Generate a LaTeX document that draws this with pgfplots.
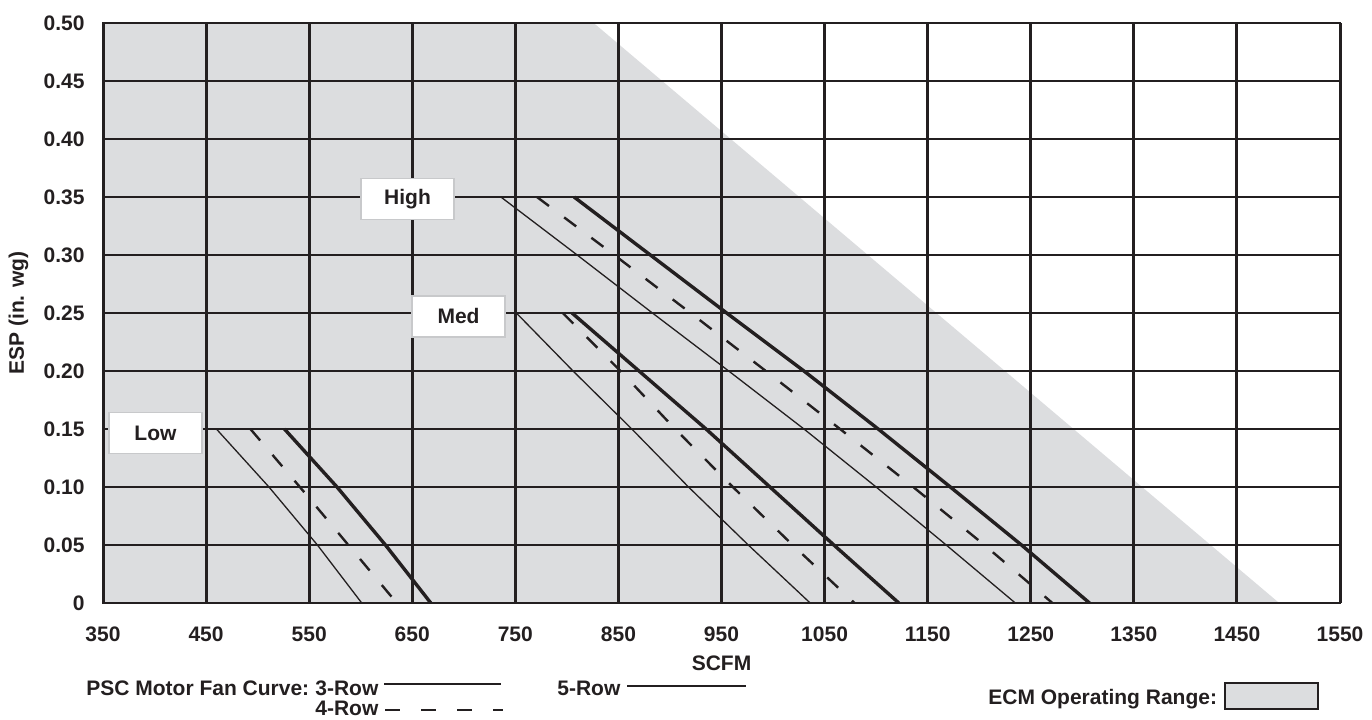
\documentclass[border=0pt]{standalone}
\usepackage{fontspec}
\setmainfont{Liberation Sans}
\usepackage{pgfplots}
\pgfplotsset{compat=1.18}
\definecolor{ecm}{RGB}{220,221,223}
\definecolor{ink}{RGB}{35,31,32}
\definecolor{boxedge}{RGB}{200,201,203}
\newcommand{\lab}{\fontsize{10.5}{12}\selectfont\bfseries}
\begin{document}
\begin{tikzpicture}
\begin{axis}[
  at={(0,0)}, anchor=south west,
  scale only axis, width=618.5pt, height=290pt,
  xmin=350, xmax=1550, ymin=0, ymax=0.5,
  xtick={350,450,550,650,750,850,950,1050,1150,1250,1350,1450,1550},
  xticklabels={350,450,550,650,750,850,950,1050,1150,1250,1350,1450,1550},
  ytick={0,0.05,0.1,0.15,0.2,0.25,0.3,0.35,0.4,0.45,0.5},
  yticklabels={0,0.05,0.10,0.15,0.20,0.25,0.30,0.35,0.40,0.45,0.50},
  major tick length=0pt,
  grid=major,
  major x grid style={line width=1.5pt, ink},
  major y grid style={line width=1pt, ink},
  axis line style={line width=1.2pt, ink},
  set layers,
  tick label style={font=\lab, text=ink},
  xticklabel style={anchor=base, yshift=-19.25pt},
  yticklabel style={anchor=east, inner sep=0pt, xshift=-9pt},
  xlabel={SCFM}, ylabel={ESP (in. wg)},
  label style={font=\lab, text=ink},
  xlabel style={at={(axis description cs:0.5,-0.1164)}, anchor=base},
  ylabel style={at={(axis description cs:-0.0683,0.5)}, anchor=center},
]
% ECM operating range
\addplot[fill=ecm, draw=none, on layer=axis background] coordinates {(350,0) (350,0.5) (826,0.5) (1491,0)} -- cycle;

% Low
\addplot[ink, line width=0.65pt] coordinates {(460,0.15) (511,0.10) (558,0.05) (601,0)};
\addplot[ink, line width=1.2pt, dash pattern=on 7.5pt off 9.5pt] coordinates {(493,0.15) (541,0.10) (588,0.05) (635,0)};
\addplot[ink, line width=1.7pt] coordinates {(526,0.15) (577,0.10) (624,0.05) (668,0)};
% Med
\addplot[ink, line width=0.65pt] coordinates {(751,0.25) (806,0.20) (863,0.15) (918,0.10) (976,0.05) (1036,0)};
\addplot[ink, line width=1.2pt, dash pattern=on 7.5pt off 9.5pt] coordinates {(796,0.25) (852,0.20) (905,0.15) (961,0.10) (1019,0.05) (1079,0)};
\addplot[ink, line width=1.7pt] coordinates {(805,0.25) (870,0.20) (935,0.15) (997,0.10) (1059,0.05) (1122,0)};
% High
\addplot[ink, line width=0.65pt] coordinates {(736,0.35) (810,0.30) (883,0.25) (957,0.20) (1030,0.15) (1100,0.10) (1168,0.05) (1235,0)};
\addplot[ink, line width=1.2pt, dash pattern=on 7.5pt off 9.5pt] coordinates {(771,0.35) (846,0.30) (920,0.25) (993,0.20) (1065,0.15) (1136,0.10) (1205,0.05) (1271,0)};
\addplot[ink, line width=1.7pt] coordinates {(807,0.35) (881,0.30) (955,0.25) (1030,0.20) (1102,0.15) (1172,0.10) (1241,0.05) (1307,0)};

\node[fill=white, draw=boxedge, line width=0.7pt, minimum width=46.5pt, minimum height=20.5pt, inner sep=0pt, font=\lab, text=ink] at (axis cs:645.4,0.3485) {High};
\node[fill=white, draw=boxedge, line width=0.7pt, minimum width=46.5pt, minimum height=20.5pt, inner sep=0pt, font=\lab, text=ink] at (axis cs:694.9,0.247) {Med};
\node[fill=white, draw=boxedge, line width=0.7pt, minimum width=46.5pt, minimum height=20.5pt, inner sep=0pt, font=\lab, text=ink] at (axis cs:400.9,0.1463) {Low};
\end{axis}

% legend
\node[anchor=base west, inner sep=0pt, font=\lab, text=ink] at (-8.5pt,-46.25pt) {PSC Motor Fan Curve:};
\node[anchor=base west, inner sep=0pt, font=\lab, text=ink] at (106pt,-46.25pt) {3-Row};
\draw[ink, line width=1pt] (140.5pt,-40.5pt) -- (199pt,-40.5pt);
\node[anchor=base west, inner sep=0pt, font=\lab, text=ink] at (106pt,-56.3pt) {4-Row};
\draw[ink, line width=1pt, dash pattern=on 7.5pt off 10.5pt] (141pt,-53.5pt) -- (200pt,-53.5pt);
\node[anchor=base west, inner sep=0pt, font=\lab, text=ink] at (227pt,-46.25pt) {5-Row};
\draw[ink, line width=1.3pt] (262pt,-41.5pt) -- (321.5pt,-41.5pt);
\node[anchor=base west, inner sep=0pt, font=\lab, text=ink] at (442.5pt,-50.75pt) {ECM Operating Range:};
\draw[ink, fill=ecm, line width=1.3pt] (561pt,-40pt) rectangle (607.5pt,-53pt);

\pgfresetboundingbox
\path[use as bounding box] (-51.5pt,-58pt) rectangle (634.5pt,301.5pt);
\end{tikzpicture}
\end{document}
